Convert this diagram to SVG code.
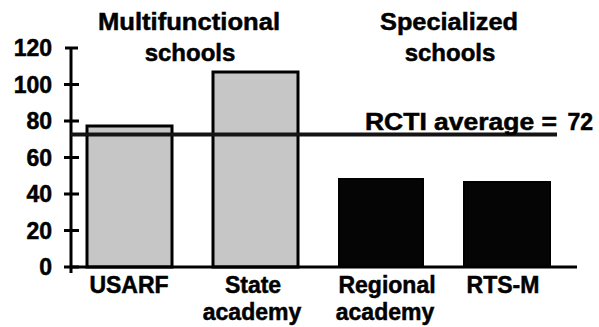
<svg xmlns="http://www.w3.org/2000/svg" width="599" height="327" viewBox="0 0 599 327">
<style>
text{font-family:"Liberation Sans",Arial,sans-serif;font-weight:bold;fill:#000;stroke:#000;stroke-width:0.5}
.t{font-size:24px;text-anchor:middle}
.y{font-size:23px;text-anchor:end}
.x{font-size:23px;text-anchor:middle}
.lb{fill:#c6c6c6;stroke:#000;stroke-width:3}
.db{fill:#050505;stroke:#000;stroke-width:2}
.ax{stroke:#000;stroke-width:3;fill:none}
</style>
<rect width="599" height="327" fill="#fff"/>
<g id="titles">
<text class="t" x="189" y="30" textLength="182" lengthAdjust="spacingAndGlyphs">Multifunctional</text>
<text class="t" x="190" y="61">schools</text>
<text class="t" x="449" y="30" textLength="138" lengthAdjust="spacingAndGlyphs">Specialized</text>
<text class="t" x="450" y="61">schools</text>
</g>
<g id="bars">
<g id="bar-usarf"><rect class="lb" x="87" y="126" width="85" height="141"/></g>
<g id="bar-state"><rect class="lb" x="213" y="72" width="85" height="195"/></g>
<g id="bar-regional"><rect class="db" x="339" y="179" width="84" height="88"/></g>
<g id="bar-rtsm"><rect class="db" x="464" y="182" width="86" height="85"/></g>
</g>
<g id="axes">
<line class="ax" x1="71" y1="48" x2="71" y2="273"/>
<line class="ax" x1="69.5" y1="267" x2="577" y2="267"/>
<path class="ax" d="M64 267H79M64 230.5H79M64 194H79M64 157.5H79M64 121H79M64 84.5H79M65 48H78"/>
</g>
<g id="ylabels">
<text class="y" x="52" y="275">0</text>
<text class="y" x="52" y="238.5">20</text>
<text class="y" x="52" y="202">40</text>
<text class="y" x="52" y="165.5">60</text>
<text class="y" x="52" y="129">80</text>
<text class="y" x="52" y="92.5">100</text>
<text class="y" x="52" y="56">120</text>
</g>
<g id="connectors">
<line x1="71" y1="134.5" x2="557" y2="134.5" stroke="#151515" stroke-width="4"/>
</g>
<g id="avg-label">
<text x="365" y="130" font-size="23" textLength="192" lengthAdjust="spacingAndGlyphs">RCTI average =</text>
<text x="593" y="130" font-size="23" text-anchor="end">72</text>
</g>
<g id="xlabels">
<text class="x" x="129" y="293">USARF</text>
<text class="x" x="253" y="293">State</text>
<text class="x" x="252" y="320">academy</text>
<text class="x" x="387" y="293">Regional</text>
<text class="x" x="385" y="320">academy</text>
<text class="x" x="503" y="293">RTS-M</text>
</g>
</svg>
